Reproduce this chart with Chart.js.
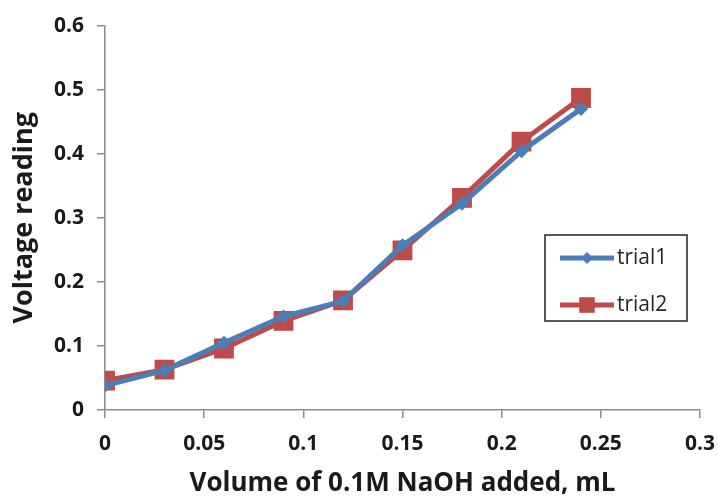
<!DOCTYPE html>
<html>
<head>
<meta charset="utf-8">
<script src="https://cdn.jsdelivr.net/npm/chart.js@4.4.1/dist/chart.umd.min.js"></script>
<style>
  html, body { margin: 0; padding: 0; background: #fff; }
  #wrap { width: 718px; height: 499px; }
</style>
</head>
<body>
<div id="wrap"><canvas id="chart_voltage" width="718" height="499"></canvas></div>
<script>
// volume of NaOH added (mL)
var volumes = [0, 0.03, 0.06, 0.09, 0.12, 0.15, 0.18, 0.21, 0.24]
var trial1 = [0.038, 0.062, 0.105, 0.146, 0.170, 0.257, 0.322, 0.404, 0.470]
var trial2 = [0.046, 0.063, 0.096, 0.139, 0.171, 0.249, 0.331, 0.419, 0.487]
var seriesNames = ['trial1', 'trial2']
var xTicks = [0, 0.05, 0.1, 0.15, 0.2, 0.25, 0.3]
var yTicks = [0, 0.1, 0.2, 0.3, 0.4, 0.5, 0.6]

var cores = ['#4a7ebb', '#be4b48']
var markers = ['rectRot', 'rect']
var markerSize = [7, 14]
var legendMarkerSize = [6, 11]
var axisGrey = '#8c8c8c'
var fontFam = '"Open Sans", "DejaVu Sans", sans-serif'

function toPoints(ys) {
    return volumes.map(function(v, i) { return { x: v, y: ys[i] }; });
}

// legend box drawn inside the plot, right side
var boxLegend = {
    id: 'boxLegend',
    afterDraw: function(chart) {
        var c = chart.ctx;
        var x0 = 545, y0 = 235, w = 142, h = 86;
        c.save();
        c.strokeStyle = '#222';
        c.lineWidth = 1.5;
        c.strokeRect(x0, y0, w, h);
        c.font = '21px ' + fontFam;
        c.textBaseline = 'middle';
        seriesNames.forEach(function(name, i) {
            var ly = y0 + 23 + i * 47;
            c.strokeStyle = cores[i];
            c.lineWidth = 5;
            c.beginPath();
            c.moveTo(x0 + 15, ly);
            c.lineTo(x0 + 69, ly);
            c.stroke();
            c.fillStyle = cores[i];
            Chart.helpers.drawPoint(c, {
                pointStyle: markers[i],
                radius: legendMarkerSize[i],
                borderWidth: 0
            }, x0 + 42, ly);
            c.fillStyle = '#262626';
            c.fillText(name, x0 + 72, ly);
        });
        c.restore();
    }
};

var ctx = document.getElementById('chart_voltage');

var chartVoltage = new Chart(ctx, {
    type: 'line',
    data: {
        datasets: [0, 1].map(function(i) {
            return {
                label: seriesNames[i],
                data: toPoints(i === 0 ? trial1 : trial2),
                borderColor: cores[i],
                backgroundColor: cores[i],
                borderWidth: 5,
                pointStyle: markers[i],
                pointRadius: markerSize[i],
                pointBorderWidth: 0,
                pointHoverRadius: markerSize[i],
                tension: 0
            };
        })
    },
    options: {
        responsive: false,
        animation: false,
        layout: { padding: { top: 23, right: 18, bottom: 0, left: 0 } },
        plugins: {
            legend: { display: false },
            tooltip: { enabled: false }
        },
        scales: {
            x: {
                type: 'linear',
                min: 0,
                max: 0.3,
                afterBuildTicks: function(axis) {
                    axis.ticks = xTicks.map(function(v) { return { value: v }; });
                },
                afterFit: function(axis) {
                    axis.height = 89;
                    axis.paddingLeft = 0;
                    axis.paddingRight = 0;
                },
                border: { color: axisGrey, width: 1.5 },
                grid: {
                    drawOnChartArea: false,
                    color: axisGrey,
                    lineWidth: 1.5,
                    tickLength: 8
                },
                ticks: {
                    color: '#1a1a1a',
                    padding: 13,
                    font: { family: fontFam, size: 21, weight: 'bold' },
                    callback: function(value) { return String(+value.toFixed(2)); }
                },
                title: {
                    display: true,
                    text: 'Volume of 0.1M NaOH added, mL',
                    color: '#1a1a1a',
                    padding: { top: 2, bottom: 0 },
                    font: { family: fontFam, size: 26, weight: 'bold' }
                }
            },
            y: {
                min: 0,
                max: 0.6,
                afterBuildTicks: function(axis) {
                    axis.ticks = yTicks.map(function(v) { return { value: v }; });
                },
                afterFit: function(axis) { axis.width = 105; },
                border: { color: axisGrey, width: 1.5 },
                grid: {
                    drawOnChartArea: false,
                    color: axisGrey,
                    lineWidth: 1.5,
                    tickLength: 8
                },
                ticks: {
                    color: '#1a1a1a',
                    padding: 13,
                    font: { family: fontFam, size: 21, weight: 'bold' },
                    callback: function(value) { return String(+value.toFixed(1)); }
                },
                title: {
                    display: true,
                    text: 'Voltage reading',
                    color: '#1a1a1a',
                    padding: { top: 8, bottom: 4 },
                    font: { family: fontFam, size: 27, weight: 'bold' }
                }
            }
        }
    },
    plugins: [boxLegend]
});
</script>
</body>
</html>
